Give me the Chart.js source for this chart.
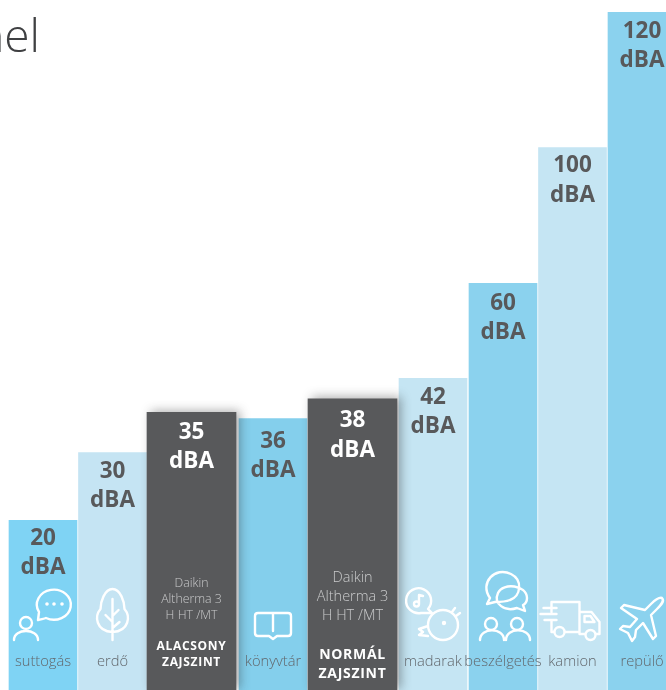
<!DOCTYPE html>
<html>
<head>
<meta charset="utf-8">
<style>
    html, body { margin: 0; padding: 0; background: #fff; overflow: hidden; }
    canvas { display: block; }
</style>
<script src="https://cdn.jsdelivr.net/npm/chart.js@4"></script>
</head>
<body>
<canvas id="chart" width="666" height="690"></canvas>
<script>
// Data
const categories = ['suttogás', 'erdő', 'ALACSONY ZAJSZINT', 'könyvtár', 'NORMÁL ZAJSZINT', 'madarak', 'beszélgetés', 'kamion', 'repülő'];
const dbaValues = [20, 30, 35, 36, 38, 42, 60, 100, 120];
// The bars of the infographic are not drawn to scale: these are the heights as
// they appear in the picture, expressed on a 0-120 axis
const drawnLevels = [30, 42, 49.1, 48, 51.5, 55.1, 71.9, 95.9, 119.8];
const daikinLines = ['Daikin', 'Altherma 3', 'H HT /MT'];
const titleFragment = 'nel';

// Layout and styling
const COLUMN_CENTRES = [43, 112.5, 191.5, 273, 352.5, 433, 503, 572.5, 642];
const BAR_COLORS = ['#7fd3f4', '#c5e4f3', '#58595b', '#84cfec', '#58595b', '#c5e5f3', '#8bd2ee', '#c5e5f3', '#8bd2ee'];
const LABEL_OFFSETS = [18, 19, 20, 23, 22, 19, 20, 18, 19];
const DARK_BARS = [2, 4];
const FONT = '"Open Sans", sans-serif';
const TEXT_DARK = '#58595b';
const TEXT_GREY = '#62676c';

// Icon outlines, relative to the bar centre at y = 640
const ICONS = [
    'M-5 -20 L-4 -28 A17 15 0 1 1 3 -22 C1 -21 -2 -21 -5 -20 Z M-11 -17 a6 6 0 1 1 -12 0 a6 6 0 1 1 12 0 M-29 0 C-29 -12 -5 -12 -5 0',
    'M0 -51 C8 -51 12 -38 12 -31 C18 -24 17 -9 0 -8 C-17 -9 -18 -24 -12 -31 C-12 -38 -8 -51 0 -51 Z M0 -41 V0 M0 -24 L6 -30 M0 -18 L-7 -25 M0 -12 L7 -18',
    null,
    'M-1 -27 H-15 Q-18 -27 -18 -24 V-7 Q-18 -4 -15 -4 H-4 L0 -1 L4 -4 H15 Q18 -4 18 -7 V-24 Q18 -27 15 -27 H1 Z M0 -27 V-9',
    null,
    'M-12 -27 A12.5 12.5 0 1 1 -5 -31 L-1 -27 Z M-14 -45 V-36 M-14 -45 L-10 -44 M-14 -36 a2.5 2.5 0 1 1 -5 0 a2.5 2.5 0 1 1 5 0 M25 -15 A15 15 0 1 1 -5 -15 A15 15 0 1 1 25 -15 M12 -17 a1 1 0 1 1 -2 0 a1 1 0 1 1 2 0 M19 -28 L22 -32 M23 -24 L27 -27 M-5 -14 L-14 -11 L-10 -8 L-14 -5 L-5 -4',
    'M-8 -38 L-16 -36 L-13 -42 C-24 -57 -8 -74 8 -66 C20 -60 18 -44 7 -40 C2 -38 -4 -38 -8 -38 Z M22 -29 L14 -32 C2 -28 -10 -36 -5 -47 C0 -58 24 -55 24 -42 C24 -38 22 -36 20 -35 Z M-6 -16 a6 6 0 1 1 -12 0 a6 6 0 1 1 12 0 M20 -16 a6 6 0 1 1 -12 0 a6 6 0 1 1 12 0 M-23 0 C-23 -13 1 -13 1 0 M3 0 C3 -13 27 -13 27 0',
    'M-21 -28 V-38 H7 V-8 H-8 M-21 -20 V-8 H-18 M7 -28 H19 L27 -18 V-6 H23 M7 -8 V-6 H13 M-18 -8 a5 5 0 1 0 10 0 a5 5 0 1 0 -10 0 M13 -5 a5 5 0 1 0 10 0 a5 5 0 1 0 -10 0 M12 -24 H18 L22 -18 H12 Z M-32 -26 H-16 M-28 -20 H-16 M-29 -32 H-16',
    'M20 -42 C17 -43 13 -40 9 -36 L3 -30 L-18 -35 L-21 -32 L-5 -21 L-12 -13 L-19 -14 L-22 -11 L-14 -7 L-10 1 L-7 -3 L-6 -10 L1 -17 L11 -1 L14 -4 L9 -25 L15 -31 C19 -35 23 -39 20 -42 Z'
];
const ICON_DOTS = { 0: [[4, -36], [11, -36], [19, -36]] };

function barPoints(keep) {
    const points = [];
    categories.forEach((c, i) => {
        if (keep(i)) points.push({ x: COLUMN_CENTRES[i], y: drawnLevels[i] });
    });
    return points;
}

function barColors(keep) {
    return BAR_COLORS.filter((c, i) => keep(i));
}

const isDark = i => DARK_BARS.includes(i);
const isLight = i => !DARK_BARS.includes(i);

function text(ctx, str, x, y, font, color, spacing) {
    ctx.font = font;
    ctx.fillStyle = color;
    ctx.letterSpacing = spacing || '0px';
    ctx.fillText(str, x, y);
}

// Soft shadow behind the two dark bars
const darkShadow = {
    id: 'darkShadow',
    beforeDatasetDraw(chart, args) {
        if (args.index !== 0) return;
        const ctx = chart.ctx;
        ctx.save();
        ctx.shadowColor = 'rgba(40, 40, 40, 0.4)';
        ctx.shadowBlur = 10;
        ctx.shadowOffsetX = 4;
        ctx.shadowOffsetY = -1;
    },
    afterDatasetDraw(chart, args) {
        if (args.index === 0) chart.ctx.restore();
    }
};

const barText = {
    id: 'barText',
    afterDatasetsDraw(chart) {
        const ctx = chart.ctx;
        const xScale = chart.scales.x;
        const yScale = chart.scales.y;
        ctx.save();
        ctx.textAlign = 'center';
        ctx.textBaseline = 'middle';

        categories.forEach((name, i) => {
            const x = xScale.getPixelForValue(COLUMN_CENTRES[i]);
            const top = yScale.getPixelForValue(drawnLevels[i]);
            const color = isDark(i) ? '#ffffff' : TEXT_DARK;
            const off = LABEL_OFFSETS[i];
            text(ctx, String(dbaValues[i]), x, top + off, 'bold 22.5px ' + FONT, color);
            text(ctx, 'dBA', x, top + off + 29.5, 'bold 22.5px ' + FONT, color);

            if (i === 2) {
                daikinLines.forEach((l, n) => text(ctx, l, x, 583 + n * 16, '300 12.3px ' + FONT, '#c9cacb'));
                name.split(' ').forEach((l, n) => text(ctx, l, x, 647 + n * 16, 'bold 12px ' + FONT, '#ffffff', '0.7px'));
            } else if (i === 4) {
                daikinLines.forEach((l, n) => text(ctx, l, x, 578 + n * 19, '300 14.5px ' + FONT, '#c9cacb'));
                name.split(' ').forEach((l, n) => text(ctx, l, x, 655 + n * 19, 'bold 14px ' + FONT, '#ffffff', '0.7px'));
            } else {
                text(ctx, name, x, 662, '300 14.7px ' + FONT, TEXT_GREY);
            }

            if (ICONS[i]) {
                ctx.save();
                ctx.translate(x, 640);
                ctx.strokeStyle = '#ffffff';
                ctx.fillStyle = '#ffffff';
                ctx.lineWidth = 2.4;
                ctx.lineJoin = 'round';
                ctx.lineCap = 'round';
                ctx.stroke(new Path2D(ICONS[i]));
                (ICON_DOTS[i] || []).forEach(d => {
                    ctx.beginPath();
                    ctx.arc(d[0], d[1], 1.8, 0, Math.PI * 2);
                    ctx.fill();
                });
                ctx.restore();
            }
        });

        // Clipped end of the page heading
        ctx.textAlign = 'right';
        ctx.textBaseline = 'alphabetic';
        text(ctx, titleFragment, 40, 52, '300 46px ' + FONT, '#3f4042');
        ctx.restore();
    }
};

new Chart(document.getElementById('chart'), {
    type: 'bar',
    data: {
        datasets: [
            { data: barPoints(isDark), backgroundColor: barColors(isDark), barThickness: 89 },
            { data: barPoints(isLight), backgroundColor: barColors(isLight), barThickness: 68 }
        ]
    },
    options: {
        responsive: false,
        animation: false,
        devicePixelRatio: 1,
        datasets: { bar: { grouped: false, borderWidth: 0 } },
        layout: { padding: 0 },
        scales: {
            x: { type: 'linear', min: 0, max: 666, display: false, offset: false },
            y: { min: 0, max: 122, display: false }
        },
        plugins: {
            legend: { display: false },
            title: { display: false },
            tooltip: { enabled: false }
        }
    },
    plugins: [darkShadow, barText]
});
</script>
</body>
</html>
